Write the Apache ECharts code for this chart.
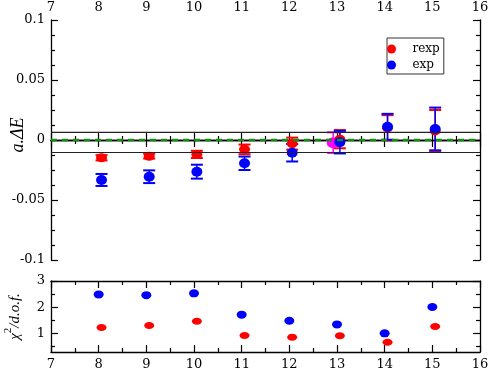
<!DOCTYPE html>
<html>
<head>
<meta charset="utf-8">
<script src="https://cdn.jsdelivr.net/npm/echarts@6/dist/echarts.min.js"></script>
<style>
  html, body { margin: 0; padding: 0; background: #fff; }
  #chart { width: 491px; height: 371px; }
</style>
</head>
<body>
<div id="chart"></div>
<script>
// upper panel: a.dE against t_min (points sit a bit right of the integer)
var tTop = [8.06, 9.06, 10.06, 11.06, 12.06, 13.06, 14.06, 15.06];
var rexpDE = [-0.0148, -0.0135, -0.012, -0.0078, -0.003, 0.0007, 0.0102, 0.0076];
var rexpErr = [0.0022, 0.002, 0.003, 0.004, 0.005, 0.0076, 0.0105, 0.0174];
var expDE = [-0.0333, -0.0306, -0.0264, -0.0194, -0.0106, -0.0018, 0.011, 0.0092];
var expErr = [0.005, 0.0053, 0.0058, 0.0056, 0.0073, 0.0094, 0.0108, 0.0178];
var magX = [12.92];
var magDE = [-0.0022];
var magErr = [0.0086];
var bandLevels = [0.0064, -0.0104];
var zeroLevel = [0];

// lower panel: chi2/dof
var tChiExp = [8, 9, 10, 11, 12, 13, 14, 15];
var expChi = [2.49, 2.46, 2.53, 1.72, 1.49, 1.35, 1.01, 2.01];
var tChiRexp = [8.06, 9.06, 10.06, 11.06, 12.06, 13.06, 14.06, 15.06];
var rexpChi = [1.23, 1.31, 1.47, 0.93, 0.86, 0.92, 0.67, 1.27];

var chiMajor = [1, 2, 3];
var chiMinor = [0.5, 1.5, 2.5];
var xRange = [7, 16];

var FONT = 'DejaVu Serif';

function pts(xs, ys) {
    return xs.map(function (x, i) { return [x, ys[i]]; });
}
function bars(xs, ys, es) {
    return xs.map(function (x, i) { return [x, ys[i] - es[i], ys[i] + es[i]]; });
}
function hline(v) {
    return [[xRange[0], v], [xRange[1], v]];
}

// error bar with caps
function errBar(params, api) {
    var x = api.value(0);
    var hi = api.coord([x, api.value(2)]);
    var lo = api.coord([x, api.value(1)]);
    var c = api.visual('color');
    var w = 6;
    return {
        type: 'group',
        children: [
            { type: 'line', shape: { x1: hi[0], y1: hi[1], x2: lo[0], y2: lo[1] }, style: { stroke: c, lineWidth: 1.5 } },
            { type: 'line', shape: { x1: hi[0] - w, y1: hi[1], x2: hi[0] + w, y2: hi[1] }, style: { stroke: c, lineWidth: 2 } },
            { type: 'line', shape: { x1: lo[0] - w, y1: lo[1], x2: lo[0] + w, y2: lo[1] }, style: { stroke: c, lineWidth: 2 } }
        ]
    };
}

var axLine = { show: true, lineStyle: { color: '#000', width: 1.3 } };
var lbl = { color: '#000', fontFamily: FONT, fontSize: 13 };

function xAx(grid, pos, showLabel) {
    return {
        type: 'value', gridIndex: grid, position: pos, min: xRange[0], max: xRange[1], interval: 1,
        axisLine: axLine,
        axisTick: { inside: true, length: 7, lineStyle: { color: '#000', width: 1.2 } },
        minorTick: { show: true, splitNumber: 2, length: 4, lineStyle: { color: '#000', width: 1.2 } },
        axisLabel: Object.assign({ show: showLabel, margin: 6 }, lbl),
        splitLine: { show: false }
    };
}

var series = [];
bandLevels.forEach(function (v) {
    series.push({
        type: 'line', xAxisIndex: 0, yAxisIndex: 0, data: hline(v), symbol: 'none', silent: true,
        lineStyle: { color: '#222', width: 1.2 }
    });
});
zeroLevel.forEach(function (v) {
    series.push({
        type: 'line', xAxisIndex: 0, yAxisIndex: 0, data: hline(v), symbol: 'none', silent: true,
        lineStyle: { color: '#0c940c', width: 2.6, type: [6, 5] }
    });
});

series = series.concat([
    {
        name: 'fit-err', type: 'custom', xAxisIndex: 0, yAxisIndex: 0,
        itemStyle: { color: '#ff00ff' }, renderItem: errBar,
        encode: { x: 0, y: [1, 2] }, data: bars(magX, magDE, magErr)
    },
    {
        name: 'fit', type: 'scatter', xAxisIndex: 0, yAxisIndex: 0,
        symbolSize: [13, 11], itemStyle: { color: '#ff00ff', opacity: 1 },
        data: pts(magX, magDE)
    },
    {
        name: 'rexp-err', type: 'custom', xAxisIndex: 0, yAxisIndex: 0,
        itemStyle: { color: '#ff0000' }, renderItem: errBar,
        encode: { x: 0, y: [1, 2] }, data: bars(tTop, rexpDE, rexpErr)
    },
    {
        name: 'rexp', type: 'scatter', xAxisIndex: 0, yAxisIndex: 0,
        symbolSize: [11, 9], itemStyle: { color: '#ff0000', opacity: 1 },
        data: pts(tTop, rexpDE)
    },
    {
        name: 'exp-err', type: 'custom', xAxisIndex: 0, yAxisIndex: 0,
        itemStyle: { color: '#0000ff' }, renderItem: errBar,
        encode: { x: 0, y: [1, 2] }, data: bars(tTop, expDE, expErr)
    },
    {
        name: 'exp', type: 'scatter', xAxisIndex: 0, yAxisIndex: 0,
        symbolSize: [11, 10], itemStyle: { color: '#0000ff', opacity: 1 },
        data: pts(tTop, expDE)
    },
    {
        name: 'exp', type: 'scatter', xAxisIndex: 2, yAxisIndex: 2,
        symbolSize: [10, 8], itemStyle: { color: '#0000ff', opacity: 1 },
        data: pts(tChiExp, expChi)
    },
    {
        name: 'rexp', type: 'scatter', xAxisIndex: 2, yAxisIndex: 2,
        symbolSize: [10, 7], itemStyle: { color: '#ff0000', opacity: 1 },
        data: pts(tChiRexp, rexpChi)
    }
]);

var chart = echarts.init(document.getElementById('chart'));
chart.setOption({
    animation: false,
    grid: [
        { left: 51, right: 11, top: 20, height: 240, outerBoundsMode: 'none', containLabel: false },
        { left: 51, right: 11, top: 281, height: 71, outerBoundsMode: 'none', containLabel: false },
        { left: 51, right: 11, top: 281, height: 71, outerBoundsMode: 'none', containLabel: false }
    ],
    legend: {
        data: ['rexp', 'exp'],
        orient: 'vertical', left: 387, top: 38,
        borderColor: '#333', borderWidth: 1,
        padding: [5, 4, 3, 0],
        itemWidth: 32, itemHeight: 9, itemGap: 4,
        icon: 'circle',
        textStyle: { fontFamily: FONT, fontSize: 12, color: '#000' }
    },
    xAxis: [
        xAx(0, 'top', true),
        xAx(0, 'bottom', false),
        xAx(1, 'bottom', true),
        xAx(1, 'top', false),
        { type: 'value', gridIndex: 2, min: xRange[0], max: xRange[1], show: false }
    ],
    yAxis: [
        {
            type: 'value', gridIndex: 0, position: 'left', min: -0.1, max: 0.1, interval: 0.05,
            axisLine: axLine,
            axisTick: { inside: true, length: 7, lineStyle: { color: '#000', width: 1.2 } },
            minorTick: { show: true, splitNumber: 4, length: 4, lineStyle: { color: '#000', width: 1.2 } },
            axisLabel: Object.assign({ margin: 6 }, lbl),
            splitLine: { show: false },
            name: 'a.ΔE', nameLocation: 'middle', nameGap: 24, nameMoveOverlap: false,
            nameTextStyle: { fontFamily: 'Liberation Serif', fontStyle: 'italic', fontSize: 18, color: '#000', padding: [0, 0, 0, 10] }
        },
        {
            type: 'value', gridIndex: 0, position: 'right', min: -0.1, max: 0.1, interval: 0.05,
            axisLine: axLine,
            axisTick: { inside: true, length: 7, lineStyle: { color: '#000', width: 1.2 } },
            minorTick: { show: true, splitNumber: 4, length: 4, lineStyle: { color: '#000', width: 1.2 } },
            axisLabel: { show: false },
            splitLine: { show: false }
        },
        {
            type: 'value', gridIndex: 1, position: 'left', min: 0.3, max: 3,
            axisLine: axLine,
            axisTick: { inside: true, length: 7, customValues: chiMajor, lineStyle: { color: '#000', width: 1.2 } },
            axisLabel: Object.assign({ margin: 6, customValues: chiMajor }, lbl),
            splitLine: { show: false },
            name: '{c|χ}{s|2}{c|/d.o.f.}', nameLocation: 'middle', nameGap: 28, nameMoveOverlap: false,
            nameTextStyle: {
                color: '#000',
                rich: {
                    c: { fontFamily: 'Liberation Serif', fontStyle: 'italic', fontSize: 15, lineHeight: 20, verticalAlign: 'bottom' },
                    s: { fontFamily: 'Liberation Serif', fontSize: 11, lineHeight: 20, verticalAlign: 'top' }
                }
            }
        },
        {
            type: 'value', gridIndex: 1, position: 'right', min: 0.3, max: 3,
            axisLine: axLine,
            axisTick: { inside: true, length: 7, customValues: chiMajor, lineStyle: { color: '#000', width: 1.2 } },
            axisLabel: { show: false },
            splitLine: { show: false }
        },
        {
            type: 'value', gridIndex: 2, position: 'left', min: 0.3, max: 3,
            axisLine: { show: false },
            axisTick: { inside: true, length: 4, customValues: chiMinor, lineStyle: { color: '#000', width: 1.2 } },
            axisLabel: { show: false },
            splitLine: { show: false }
        },
        {
            type: 'value', gridIndex: 2, position: 'right', min: 0.3, max: 3,
            axisLine: { show: false },
            axisTick: { inside: true, length: 4, customValues: chiMinor, lineStyle: { color: '#000', width: 1.2 } },
            axisLabel: { show: false },
            splitLine: { show: false }
        }
    ],
    series: series
});
</script>
</body>
</html>
